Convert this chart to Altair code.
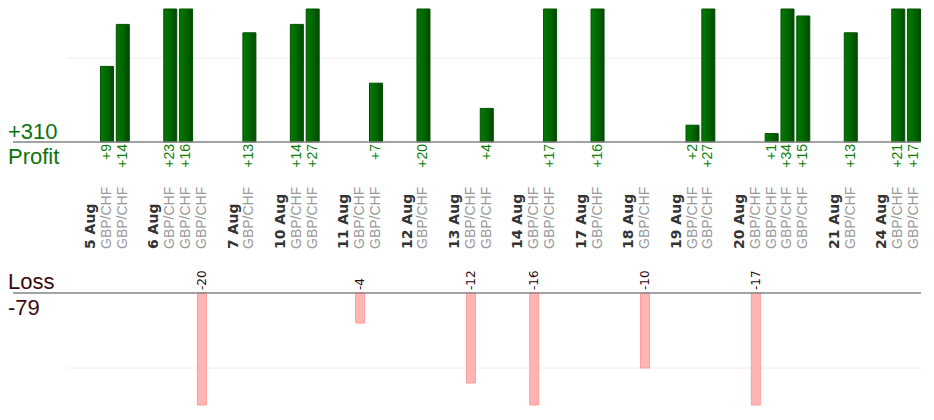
import altair as alt
import pandas as pd

# ---- data ----
days = ["5 Aug", "6 Aug", "7 Aug", "10 Aug", "11 Aug", "12 Aug", "13 Aug",
        "14 Aug", "17 Aug", "18 Aug", "19 Aug", "20 Aug", "21 Aug", "24 Aug"]
results = [[9, 14], [23, 16, -20], [13], [14, 27], [-4, 7], [20], [-12, 4],
           [-16, 17], [16], [-10], [2, 27], [-17, 1, 34, 15], [13], [21, 17]]
pair_name = "GBP/CHF"

# ---- build tables: one gap slot, one date slot, then one slot per trade ----
lab_rows, trade_rows = [], []
slot = 0
for d, res in zip(days, results):
    slot += 1  # gap slot
    lab_rows.append({"pos": slot + 0.5, "text": d, "kind": "date"})
    slot += 1
    for v in res:
        lab_rows.append({"pos": slot + 0.5, "text": pair_name, "kind": "pair"})
        trade_rows.append({"pos": slot + 0.5, "v": v,
                           "lbl": f"+{v}" if v > 0 else f"{v}"})
        slot += 1

labels = pd.DataFrame(lab_rows)
trades = pd.DataFrame(trade_rows)
profit = trades[trades.v > 0]
loss = trades[trades.v < 0]
total_profit = int(profit.v.sum())
total_loss = int(loss.v.sum())
one = pd.DataFrame({"a": [0]})

W, H = 918, 396
X0, X1 = -3.4375, 53.9375
xs = alt.Scale(domain=[X0, X1], nice=False, zero=False)
ps = alt.Scale(domain=[-31.310, 15.833], nice=False, zero=False, clamp=True)
ls = alt.Scale(domain=[-14.933, 37.867], nice=False, zero=False, clamp=True)

xpos = alt.X("pos:Q", scale=xs, axis=None)

green = alt.Gradient(
    gradient="linear",
    stops=[alt.GradientStop(color="#007c00", offset=0),
           alt.GradientStop(color="#006600", offset=0.5),
           alt.GradientStop(color="#004800", offset=1)],
    x1=0, x2=1, y1=0, y2=0)

ARIAL = "Liberation Sans"

# ---- profit group ----
p_grid = alt.Chart(one).mark_rule(color="#eeeeee", strokeWidth=1).encode(
    x=alt.XDatum(0, scale=xs, axis=None), x2=alt.X2Datum(X1),
    y=alt.YDatum(10, scale=ps, axis=None))
p_bars = alt.Chart(profit).mark_bar(size=13, color=green, stroke="#005000",
                                    strokeWidth=1).encode(
    x=xpos, y=alt.Y("v:Q", scale=ps, axis=None), y2=alt.Y2Datum(0))
p_base = alt.Chart(one).mark_rule(color="#858585", strokeWidth=1.5).encode(
    x=alt.XDatum(X0, scale=xs, axis=None), x2=alt.X2Datum(X1),
    y=alt.YDatum(0, scale=ps, axis=None))
p_text = alt.Chart(profit).mark_text(
    angle=270, align="right", baseline="middle", dx=-2, font=ARIAL,
    fontSize=14, color="#0a800a").encode(
    x=xpos, y=alt.YDatum(0, scale=ps, axis=None), text="lbl:N")
date_text = alt.Chart(labels[labels.kind == "date"]).mark_text(
    angle=270, align="left", baseline="middle", dx=-107, font="DejaVu Sans",
    fontWeight="bold", fontSize=14, color="#333333").encode(
    x=xpos, y=alt.YDatum(0, scale=ps, axis=None), text="text:N")
pair_text = alt.Chart(labels[labels.kind == "pair"]).mark_text(
    angle=270, align="left", baseline="middle", dx=-107, font=ARIAL,
    fontSize=14, color="#999999").encode(
    x=xpos, y=alt.YDatum(0, scale=ps, axis=None), text="text:N")
p_total = alt.Chart(one).mark_text(
    align="left", baseline="alphabetic", dy=-3, font=ARIAL, fontSize=22,
    color="#0b750b").encode(
    x=alt.value(0), y=alt.YDatum(0, scale=ps, axis=None),
    text=alt.value(f"+{total_profit}"))
p_title = alt.Chart(one).mark_text(
    align="left", baseline="alphabetic", dy=22, font=ARIAL, fontSize=22,
    color="#0b750b").encode(
    x=alt.value(0), y=alt.YDatum(0, scale=ps, axis=None),
    text=alt.value("Profit"))

profit_group = alt.layer(p_grid, p_bars, p_base, p_text, date_text,
                         pair_text, p_total, p_title)

# ---- loss group ----
l_grid = alt.Chart(one).mark_rule(color="#eeeeee", strokeWidth=1).encode(
    x=alt.XDatum(0, scale=xs, axis=None), x2=alt.X2Datum(X1),
    y=alt.YDatum(-10, scale=ls, axis=None))
l_bars = alt.Chart(loss).mark_bar(size=9, color="#ffb5b5", stroke="#ff9c9c",
                                  strokeWidth=1).encode(
    x=xpos, y=alt.Y("v:Q", scale=ls, axis=None), y2=alt.Y2Datum(0))
l_base = alt.Chart(one).mark_rule(color="#858585", strokeWidth=1.5).encode(
    x=alt.XDatum(X0, scale=xs, axis=None), x2=alt.X2Datum(X1),
    y=alt.YDatum(0, scale=ls, axis=None))
l_text = alt.Chart(loss).mark_text(
    angle=270, align="left", baseline="middle", dx=3, font="DejaVu Sans",
    fontSize=12, color="#2a0808").encode(
    x=xpos, y=alt.YDatum(0, scale=ls, axis=None), text="lbl:N")
l_title = alt.Chart(one).mark_text(
    align="left", baseline="alphabetic", dy=-4, font=ARIAL, fontSize=22,
    color="#3a0a0a").encode(
    x=alt.value(0), y=alt.YDatum(0, scale=ls, axis=None),
    text=alt.value("Loss"))
l_total = alt.Chart(one).mark_text(
    align="left", baseline="alphabetic", dy=22, font=ARIAL, fontSize=22,
    color="#3a0a0a").encode(
    x=alt.value(0), y=alt.YDatum(0, scale=ls, axis=None),
    text=alt.value(f"{total_loss}"))

loss_group = alt.layer(l_grid, l_bars, l_base, l_text, l_title, l_total)

chart = alt.layer(profit_group, loss_group).resolve_scale(
    y="independent").properties(
    width=W, height=H, padding=0).configure_view(strokeWidth=0)

chart.save("out.html", embed_options={"renderer": "svg", "actions": False})
